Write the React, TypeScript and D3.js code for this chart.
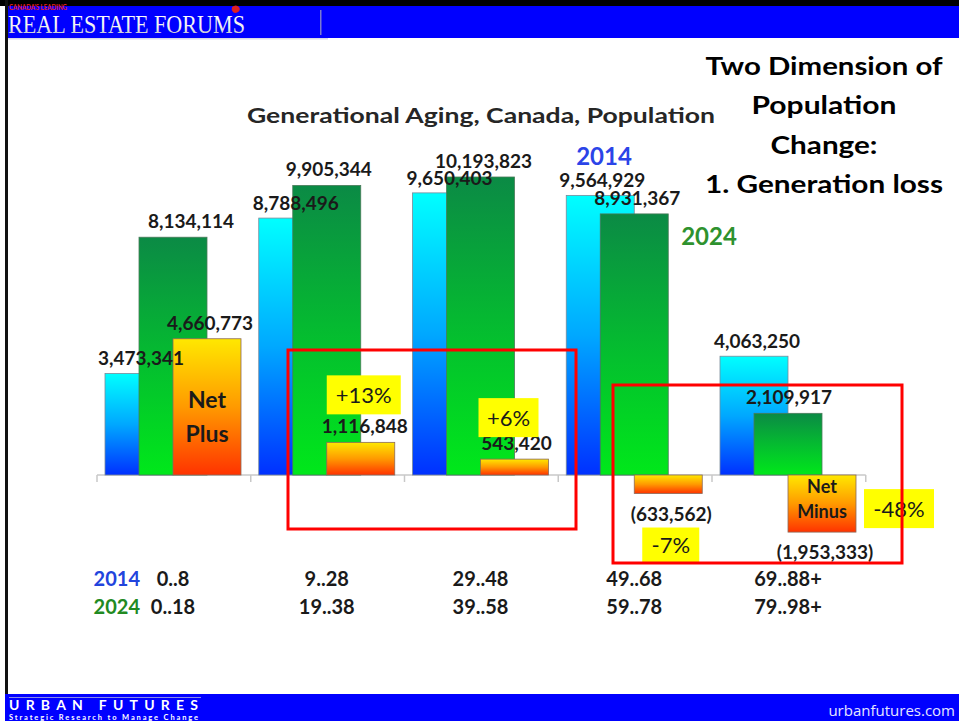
import React from "react";
import * as d3 from "d3";

// ---- data ----
const groups = ["g1", "g2", "g3", "g4", "g5"];
const ages2014 = ["0..8", "9..28", "29..48", "49..68", "69..88+"];
const ages2024 = ["0..18", "19..38", "39..58", "59..78", "79..98+"];
const pop2014 = [3473341, 8788496, 9650403, 9564929, 4063250];
const pop2024 = [8134114, 9905344, 10193823, 8931367, 2109917];
const netChange = [4660773, 1116848, 543420, -633562, -1953333];
const pctChange = ["", "+13%", "+6%", "-7%", "-48%"];
const rightTitle = ["Two Dimension of", "Population", "Change:", "1. Generation loss"];
const rightTitleW = [237, 145, 107, 238];

// ---- layout ----
const W = 959;
const H = 721;
const BASE = 475;
const BAR_W = 68;
const STEP = 34;
const BAR_PAD = 8;
const FONT = "Lato, 'Open Sans', sans-serif";

const x = d3.scaleBand<string>().domain(groups).range([97, 97 + 5 * 153.75]).paddingInner(0).paddingOuter(0);
const y = d3.scaleLinear().domain([0, 10193823]).range([BASE, 177]);

const fmt = d3.format(",");
const fmtNet = (v: number) => (v < 0 ? `(${fmt(-v)})` : fmt(v));

// label horizontal nudges (px) relative to bar centre
const dx2014 = [2, 3, 3, 2, 3];
const dx2024 = [18, 2, 3, 3, 1];
const dxNet = [3, 4, 2, 3, 3];

// percent-box annotation geometry relative to the net bar end [dx, dy, w, h]
const pctBox: Array<[number, number, number, number] | null> = [
  null,
  [0, -67, 74, 39],
  [-2, -61, 60, 39],
  [8, 34, 57, 35],
  [76, -43, 70, 39],
];

const barX = (i: number, s: number) => (x(groups[i]) as number) + BAR_PAD + s * STEP;

export default function App() {
  return (
    <div style={{ position: "fixed", left: 0, top: 0 }}>
      <svg width={W} height={H} viewBox={`0 0 ${W} ${H}`} style={{ display: "block", background: "#fff" }}>
        <defs>
          <linearGradient id="gCyan" x1="0" y1="0" x2="0" y2="1">
            <stop offset="0%" stopColor="#00FFFF" />
            <stop offset="50%" stopColor="#00A8FF" />
            <stop offset="100%" stopColor="#0030FF" />
          </linearGradient>
          <linearGradient id="gGreen" x1="0" y1="0" x2="0" y2="1">
            <stop offset="0%" stopColor="#0B8A45" />
            <stop offset="55%" stopColor="#04C02E" />
            <stop offset="100%" stopColor="#00E81A" />
          </linearGradient>
          <linearGradient id="gOrange" x1="0" y1="0" x2="0" y2="1">
            <stop offset="0%" stopColor="#FFE800" />
            <stop offset="50%" stopColor="#FF9A00" />
            <stop offset="100%" stopColor="#FF3300" />
          </linearGradient>
          <linearGradient id="gHead" x1="0" y1="0" x2="0" y2="1">
            <stop offset="0%" stopColor="#FFFFFF" />
            <stop offset="60%" stopColor="#F0F0F0" />
            <stop offset="100%" stopColor="#A8A8B8" />
          </linearGradient>
        </defs>

        {/* header */}
        <rect x={0} y={0} width={W} height={6} fill="#000" />
        <rect x={8} y={6} width={W - 8} height={32} fill="#0000FF" />
        <rect x={8} y={38} width={320} height={1.5} fill="#D8D8E8" />
        <rect x={320} y={10} width={1.5} height={25} fill="#7A7AD0" />
        <text x={9} y={10} fontFamily={FONT} fontWeight={700} fontSize={7} fill="#E02020" textLength={58} lengthAdjust="spacingAndGlyphs">
          CANADA'S LEADING
        </text>
        <path d="M232,7 q4,-3 7,0 q2,3 -1,5 q-3,2 -5,0 q-2,-2 -1,-5z" fill="#E02020" />
        <text x={8} y={33} fontFamily="'Liberation Serif', 'DejaVu Serif', serif" fontSize={26} fill="url(#gHead)" textLength={237} lengthAdjust="spacingAndGlyphs">
          REAL ESTATE FORUMS
        </text>
        <rect x={5} y={0} width={3} height={694} fill="#111" />

        {/* footer */}
        <rect x={5} y={694} width={W - 5} height={27} fill="#0000FF" />
        <rect x={9} y={697} width={192} height={1} fill="#8A8AE8" />
        <text x={9} y={710} fontFamily={FONT} fontWeight={700} fontSize={14} fill="#fff" textLength={189} lengthAdjust="spacing">
          URBAN FUTURES
        </text>
        <text x={9} y={720} fontFamily={FONT} fontWeight={700} fontSize={7.5} fill="#fff" textLength={189} lengthAdjust="spacing">
          Strategic Research to Manage Change
        </text>
        <text x={955} y={716} textAnchor="end" fontFamily="'Open Sans', sans-serif" fontSize={15} fill="#E6E6FF">
          urbanfutures.com
        </text>

        {/* titles */}
        <text x={481} y={123} textAnchor="middle" fontFamily={FONT} fontWeight={700} fontSize={21} fill="#262626" textLength={468} lengthAdjust="spacingAndGlyphs">
          Generational Aging, Canada, Population
        </text>
        {rightTitle.map((t, i) => (
          <text key={t} x={824} y={75 + i * 39.3} textAnchor="middle" fontFamily={FONT} fontWeight={700} fontSize={25} fill="#000" textLength={rightTitleW[i]} lengthAdjust="spacingAndGlyphs">
            {t}
          </text>
        ))}
        <text x={604} y={165} textAnchor="middle" fontFamily={FONT} fontWeight={700} fontSize={24} fill="#2B44E8">2014</text>
        <text x={709} y={245} textAnchor="middle" fontFamily={FONT} fontWeight={700} fontSize={24} fill="#2E922E">2024</text>

        {/* axis */}
        <line x1={x.range()[0]} x2={x.range()[1]} y1={BASE} y2={BASE} stroke="#C8C8C8" strokeWidth={1.5} />
        {groups.map((g) => (
          <line key={g} x1={x(g)} x2={x(g)} y1={BASE} y2={BASE + 7} stroke="#C8C8C8" strokeWidth={1.5} />
        ))}
        <line x1={x.range()[1]} x2={x.range()[1]} y1={BASE} y2={BASE + 7} stroke="#C8C8C8" strokeWidth={1.5} />

        {/* bars */}
        {groups.map((g, i) => {
          const net = netChange[i];
          return (
            <g key={g}>
              <rect x={barX(i, 0)} y={y(pop2014[i])} width={BAR_W} height={BASE - y(pop2014[i])} fill="url(#gCyan)" stroke="#7A8A9A" strokeWidth={0.8} />
              <rect x={barX(i, 1)} y={y(pop2024[i])} width={BAR_W} height={BASE - y(pop2024[i])} fill="url(#gGreen)" stroke="#4A7A5A" strokeWidth={0.8} />
              <rect
                x={barX(i, 2)}
                y={Math.min(y(net), BASE)}
                width={BAR_W}
                height={Math.abs(BASE - y(net))}
                fill="url(#gOrange)"
                stroke="#8A6A5A"
                strokeWidth={0.8}
              />
            </g>
          );
        })}

        {/* value labels */}
        {groups.map((g, i) => {
          const net = netChange[i];
          const lab = { fontFamily: FONT, fontWeight: 700, fontSize: 19, fill: "#1A1A1A", textAnchor: "middle" as const };
          return (
            <g key={g}>
              <text {...lab} x={barX(i, 0) + BAR_W / 2 + dx2014[i]} y={y(pop2014[i]) - 8}>{fmt(pop2014[i])}</text>
              <text {...lab} x={barX(i, 1) + BAR_W / 2 + dx2024[i]} y={y(pop2024[i]) - 9}>{fmt(pop2024[i])}</text>
              <text {...lab} x={barX(i, 2) + BAR_W / 2 + dxNet[i]} y={net >= 0 ? y(net) - 9 : y(net) + 27}>
                {fmtNet(net)}
              </text>
            </g>
          );
        })}

        {/* Net Plus / Net Minus */}
        <text x={barX(0, 2) + BAR_W / 2} y={408} textAnchor="middle" fontFamily={FONT} fontWeight={700} fontSize={23} fill="#1A1A1A">Net</text>
        <text x={barX(0, 2) + BAR_W / 2} y={442} textAnchor="middle" fontFamily={FONT} fontWeight={700} fontSize={23} fill="#1A1A1A">Plus</text>
        <text x={barX(4, 2) + BAR_W / 2} y={493} textAnchor="middle" fontFamily={FONT} fontWeight={700} fontSize={18} fill="#1A1A1A">Net</text>
        <text x={barX(4, 2) + BAR_W / 2} y={518} textAnchor="middle" fontFamily={FONT} fontWeight={700} fontSize={18} fill="#1A1A1A">Minus</text>

        {/* percent boxes */}
        {groups.map((g, i) => {
          const b = pctBox[i];
          if (!b) return null;
          const net = netChange[i];
          const bx = barX(i, 2) + b[0];
          const by = y(net) + b[1];
          return (
            <g key={g}>
              <rect x={bx} y={by} width={b[2]} height={b[3]} fill="#FFFF00" />
              <text x={bx + b[2] / 2} y={by + b[3] / 2 + 8} textAnchor="middle" fontFamily={FONT} fontSize={22} fill="#1A1A1A">
                {pctChange[i]}
              </text>
            </g>
          );
        })}

        {/* red highlight frames */}
        <rect x={288} y={350} width={288} height={179} fill="none" stroke="#FF0000" strokeWidth={3} />
        <rect x={613} y={385} width={289} height={178} fill="none" stroke="#FF0000" strokeWidth={3} />

        {/* category labels */}
        <text x={140} y={586} textAnchor="end" fontFamily={FONT} fontWeight={700} fontSize={20} fill="#2244DD">2014</text>
        <text x={140} y={614} textAnchor="end" fontFamily={FONT} fontWeight={700} fontSize={20} fill="#228A22">2024</text>
        {groups.map((g, i) => (
          <g key={g}>
            <text x={barX(i, 1) + BAR_W / 2} y={586} textAnchor="middle" fontFamily={FONT} fontWeight={700} fontSize={20} fill="#1A1A1A">{ages2014[i]}</text>
            <text x={barX(i, 1) + BAR_W / 2} y={614} textAnchor="middle" fontFamily={FONT} fontWeight={700} fontSize={20} fill="#1A1A1A">{ages2024[i]}</text>
          </g>
        ))}
      </svg>
    </div>
  );
}
